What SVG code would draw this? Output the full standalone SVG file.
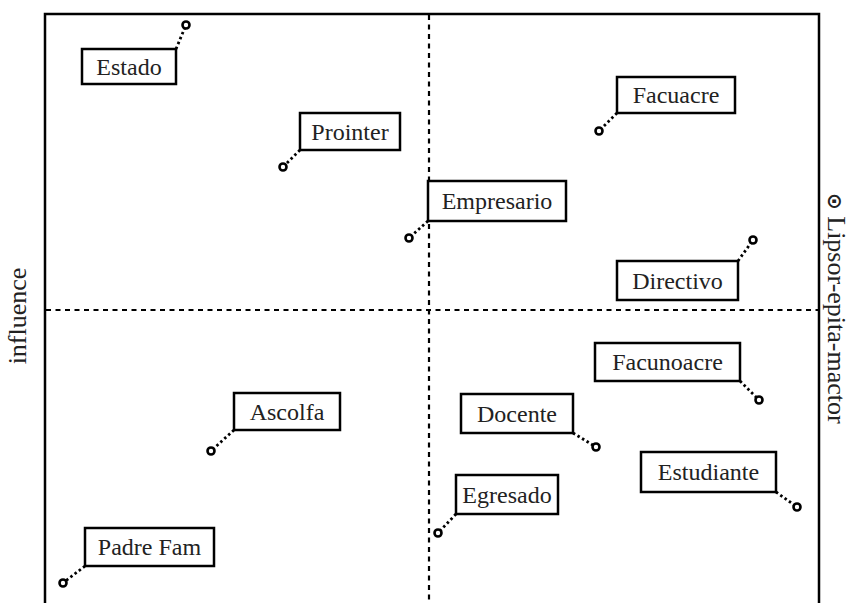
<svg xmlns="http://www.w3.org/2000/svg" width="851" height="603" viewBox="0 0 851 603">
<style>
.frame{fill:none;stroke:#000;stroke-width:2.5}
.axis{fill:none;stroke:#000;stroke-width:2.2;stroke-dasharray:5 4.5}
.box{fill:#fff;stroke:#000;stroke-width:2.5}
.lbl{font-family:"Liberation Serif","Times New Roman",serif;font-size:24px;fill:#222;text-anchor:middle}
.ax{font-family:"Liberation Serif","Times New Roman",serif;font-size:26px;fill:#222}
.lead{fill:none;stroke:#000;stroke-width:2.8;stroke-dasharray:2.5 2.8}
.pt{fill:#fff;stroke:#000;stroke-width:2.6}
</style>
<rect width="851" height="603" fill="#fff"/>
<g id="frame">
<polyline class="frame" points="45,605 45,14 819,14 819,605"/>
<line class="axis" x1="429" y1="15" x2="429" y2="603"/>
<line class="axis" x1="46" y1="310" x2="818" y2="310"/>
</g>
<g id="connectors">
<line class="lead" x1="176" y1="49" x2="186" y2="25"/>
<line class="lead" x1="300" y1="150" x2="283" y2="167"/>
<line class="lead" x1="617" y1="113" x2="599" y2="131"/>
<line class="lead" x1="428" y1="221" x2="409" y2="238"/>
<line class="lead" x1="738" y1="261" x2="753" y2="240"/>
<line class="lead" x1="740" y1="381" x2="759" y2="400"/>
<line class="lead" x1="234" y1="430" x2="211" y2="451"/>
<line class="lead" x1="573" y1="433" x2="596" y2="447"/>
<line class="lead" x1="776" y1="492" x2="797" y2="507"/>
<line class="lead" x1="456" y1="514" x2="438" y2="533"/>
<line class="lead" x1="85" y1="566" x2="63" y2="583"/>
</g>
<g id="n-estado"><rect class="box" x="82" y="49" width="94" height="35"/><text class="lbl" x="129" y="75">Estado</text><circle class="pt" cx="186" cy="25" r="3.5"/></g>
<g id="n-prointer"><rect class="box" x="300" y="113" width="100" height="37"/><text class="lbl" x="350" y="140">Prointer</text><circle class="pt" cx="283" cy="167" r="3.5"/></g>
<g id="n-facuacre"><rect class="box" x="617" y="77" width="118" height="36"/><text class="lbl" x="676" y="103">Facuacre</text><circle class="pt" cx="599" cy="131" r="3.5"/></g>
<g id="n-empresario"><rect class="box" x="428" y="181" width="138" height="40"/><text class="lbl" x="497" y="209">Empresario</text><circle class="pt" cx="409" cy="238" r="3.5"/></g>
<g id="n-directivo"><rect class="box" x="617" y="261" width="121" height="39"/><text class="lbl" x="677.5" y="289">Directivo</text><circle class="pt" cx="753" cy="240" r="3.5"/></g>
<g id="n-facunoacre"><rect class="box" x="595" y="343" width="145" height="38"/><text class="lbl" x="667.5" y="370">Facunoacre</text><circle class="pt" cx="759" cy="400" r="3.5"/></g>
<g id="n-ascolfa"><rect class="box" x="234" y="393" width="106" height="37"/><text class="lbl" x="287" y="420">Ascolfa</text><circle class="pt" cx="211" cy="451" r="3.5"/></g>
<g id="n-docente"><rect class="box" x="461" y="394" width="112" height="39"/><text class="lbl" x="517" y="422">Docente</text><circle class="pt" cx="596" cy="447" r="3.5"/></g>
<g id="n-estudiante"><rect class="box" x="641" y="452" width="135" height="40"/><text class="lbl" x="708.5" y="480">Estudiante</text><circle class="pt" cx="797" cy="507" r="3.5"/></g>
<g id="n-egresado"><rect class="box" x="456" y="475" width="102" height="39"/><text class="lbl" x="507" y="503">Egresado</text><circle class="pt" cx="438" cy="533" r="3.5"/></g>
<g id="n-padrefam"><rect class="box" x="85" y="528" width="129" height="38"/><text class="lbl" x="149.5" y="555">Padre Fam</text><circle class="pt" cx="63" cy="583" r="3.5"/></g>
<g id="axis-labels">
<text class="ax" transform="translate(26,316) rotate(-90)" text-anchor="middle">influence</text>
<text class="ax" transform="translate(828,193) rotate(90)"><tspan font-family="DejaVu Sans,sans-serif" font-weight="bold" font-size="20">⊙</tspan> Lipsor-epita-mactor</text>
</g>
</svg>
